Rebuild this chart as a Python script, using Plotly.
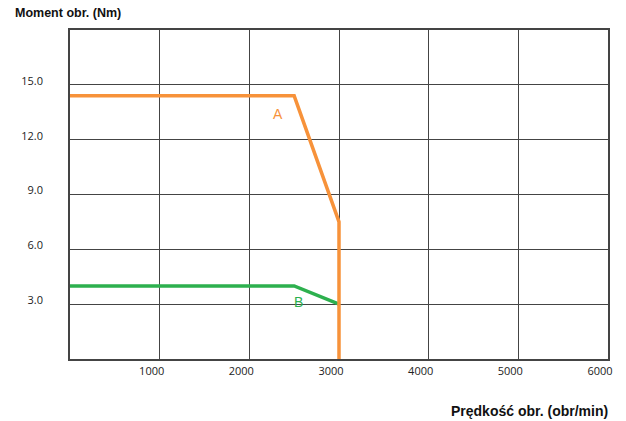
import plotly.graph_objects as go

# Data
speed_A = [0, 2500, 3000, 3000]
torque_A = [14.4, 14.4, 7.5, 0.0]
speed_B = [0, 2500, 3000]
torque_B = [4.0, 4.0, 3.0]

x_ticks = [1000, 2000, 3000, 4000, 5000, 6000]
x_tick_labels = ["1000", "2000", "3000", "4000", "5000", "6000"]
y_ticks = [3, 6, 9, 12, 15]
y_tick_labels = ["3.0", "6.0", "9.0", "12.0", "15.0"]

ORANGE = "#F7923A"
GREEN = "#2DB04E"
GRID = "#444444"

fig = go.Figure()
fig.add_trace(go.Scatter(x=speed_B, y=torque_B, mode="lines",
                         line=dict(color=GREEN, width=3.5), showlegend=False))
fig.add_trace(go.Scatter(x=speed_A, y=torque_A, mode="lines",
                         line=dict(color=ORANGE, width=3.5), showlegend=False))

fig.add_annotation(x=2320, y=13.4, text="A", showarrow=False,
                   font=dict(family="Liberation Sans", size=14, color=ORANGE))
fig.add_annotation(x=2550, y=3.1, text="B", showarrow=False,
                   font=dict(family="Liberation Sans", size=14, color=GREEN))

fig.add_annotation(xref="paper", yref="paper", x=-0.1064, y=1.0514,
                   xanchor="left", yanchor="middle", text="<b>Moment obr. (Nm)</b>",
                   showarrow=False,
                   font=dict(family="Liberation Sans", size=12.5, color="#111111"))
fig.add_annotation(xref="paper", yref="paper", x=1.0028, y=-0.158,
                   xanchor="right", yanchor="middle", text="<b>Prędkość obr. (obr/min)</b>",
                   showarrow=False,
                   font=dict(family="Liberation Sans", size=14, color="#111111"))

fig.update_layout(
    width=626, height=421,
    margin=dict(l=70, r=17.5, t=30, b=62),
    paper_bgcolor="white", plot_bgcolor="white",
    font=dict(family="Open Sans", size=11, color="#222222"),
)
fig.update_xaxes(range=[0, 6000], tickvals=x_ticks, ticktext=x_tick_labels,
                 showgrid=True, gridcolor=GRID, gridwidth=1.4,
                 showline=True, linecolor=GRID, linewidth=1.6, mirror=True,
                 zeroline=False, ticks="", ticklabelshift=-8, ticklabelstandoff=1)
fig.update_yaxes(range=[0, 18], tickvals=y_ticks, ticktext=y_tick_labels,
                 showgrid=True, gridcolor=GRID, gridwidth=1.4,
                 showline=True, linecolor=GRID, linewidth=1.6, mirror=True,
                 zeroline=False, ticks="", ticklabelshift=-4, ticklabelstandoff=23)

fig.write_html("out.html")
